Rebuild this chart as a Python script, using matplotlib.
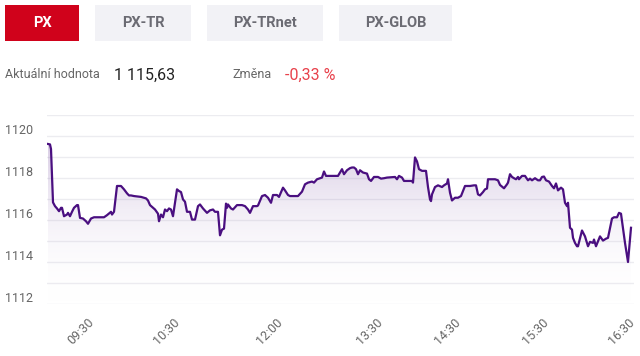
import matplotlib
matplotlib.use("Agg")
import matplotlib.pyplot as plt
import matplotlib.transforms as mtransforms
from matplotlib.patches import Rectangle
import numpy as np

plt.rcParams['font.family'] = ['Roboto', 'DejaVu Sans']

# Data: position along the session (axis units) and index value
poradi = [0, 2, 3, 5, 7, 9, 11, 13, 14, 16, 19, 20, 22, 24, 26, 29, 30, 32, 35, 38,
          40, 43, 46, 51, 56, 59, 63, 64, 66, 69, 73, 76, 79, 81, 83, 86, 93, 98,
          100, 102, 105, 107, 110, 111, 113, 115, 117, 119, 121, 123, 125, 129, 131,
          133, 135, 137, 139, 142, 144, 147, 150, 152, 155, 159, 162, 165, 167, 170,
          172, 174, 176, 178, 179, 180, 183, 185, 189, 194, 197, 200, 202, 205, 209,
          210, 214, 217, 220, 223, 225, 229, 231, 235, 237, 240, 242, 250, 254, 257,
          260, 264, 266, 269, 272, 274, 276, 278, 290, 294, 296, 299, 302, 304, 306,
          308, 310, 312, 315, 319, 321, 323, 326, 330, 333, 336, 339, 347, 349, 351,
          354, 356, 364, 365, 367, 369, 371, 374, 378, 380, 382, 383, 384, 387, 390,
          394, 396, 399, 400, 402, 404, 407, 410, 413, 417, 422, 426, 428, 430, 432,
          435, 437, 439, 440, 447, 450, 452, 456, 459, 460, 462, 464, 466, 468, 470,
          471, 474, 477, 480, 482, 484, 487, 490, 492, 494, 496, 498, 501, 504, 506,
          508, 510, 513, 515, 517, 519, 520, 522, 524, 525, 527, 529, 530, 534, 537,
          540, 542, 545, 546, 548, 550, 552, 555, 558, 560, 564, 566, 569, 571, 573,
          577, 580, 583]
hodnoty = [1119.62, 1119.60, 1119.38, 1116.84, 1116.66, 1116.55, 1116.42, 1116.58,
           1116.58, 1116.18, 1116.26, 1116.34, 1116.18, 1116.39, 1116.58, 1116.71,
           1116.71, 1116.10, 1116.07, 1115.94, 1115.82, 1116.07, 1116.13, 1116.13,
           1116.13, 1116.23, 1116.39, 1116.26, 1116.39, 1117.62, 1117.62, 1117.46,
           1117.27, 1117.17, 1117.17, 1117.14, 1117.10, 1117.03, 1116.93, 1116.71,
           1116.58, 1116.50, 1116.30, 1115.94, 1116.26, 1116.13, 1116.50, 1116.42,
           1116.55, 1116.50, 1116.18, 1117.46, 1117.38, 1117.33, 1116.98, 1116.87,
           1116.39, 1116.39, 1116.02, 1116.02, 1116.66, 1116.74, 1116.55, 1116.34,
           1116.46, 1116.50, 1116.39, 1116.39, 1115.27, 1115.54, 1115.59, 1116.78,
           1116.58, 1116.74, 1116.55, 1116.50, 1116.71, 1116.71, 1116.66, 1116.50,
           1116.34, 1116.66, 1116.66, 1116.69, 1117.14, 1117.19, 1117.06, 1116.82,
           1117.19, 1117.19, 1117.10, 1117.54, 1117.41, 1117.19, 1117.14, 1117.14,
           1117.35, 1117.70, 1117.78, 1117.83, 1117.78, 1117.94, 1117.99, 1118.02,
           1118.31, 1118.10, 1118.10, 1118.42, 1118.18, 1118.37, 1118.47, 1118.50,
           1118.50, 1118.42, 1118.18, 1118.37, 1118.26, 1118.21, 1117.94, 1117.86,
           1118.05, 1118.05, 1117.97, 1117.99, 1118.02, 1118.05, 1117.94, 1118.10,
           1118.02, 1117.86, 1117.86, 1117.78, 1118.98, 1118.79, 1118.42, 1118.34,
           1118.34, 1117.57, 1116.98, 1116.90, 1117.22, 1117.57, 1117.65, 1117.57,
           1117.65, 1117.74, 1117.94, 1117.30, 1116.93, 1117.06, 1117.06, 1117.14,
           1117.62, 1117.62, 1117.65, 1117.65, 1117.22, 1117.17, 1117.33, 1117.46,
           1117.50, 1117.94, 1117.94, 1117.89, 1117.67, 1117.51, 1117.70, 1117.78,
           1118.18, 1118.05, 1117.99, 1117.94, 1118.05, 1117.94, 1118.10, 1118.10,
           1117.89, 1117.97, 1117.89, 1117.99, 1117.89, 1117.89, 1118.05, 1118.07,
           1117.89, 1117.83, 1117.62, 1117.51, 1117.74, 1117.41, 1117.54, 1117.46,
           1116.82, 1116.66, 1116.82, 1115.63, 1115.54, 1115.15, 1114.91, 1114.75,
           1114.75, 1115.50, 1115.22, 1114.75, 1114.96, 1114.91, 1115.07, 1114.75,
           1114.99, 1115.22, 1115.02, 1115.11, 1115.15, 1116.07, 1116.13, 1116.13,
           1116.34, 1116.30, 1114.91, 1114.00, 1115.63]

casy = ["09:30", "10:30", "12:00", "13:30", "14:30", "15:30", "16:30"]
casy_pozice = [44, 130, 233, 333, 411, 499, 585]
y_popisky = [1112, 1114, 1116, 1118, 1120]

indexy = ["PX", "PX-TR", "PX-TRnet", "PX-GLOB"]
aktualni = "1 115,63"
zmena = "-0,33 %"

W, H = 640, 356
fig = plt.figure(figsize=(W / 100, H / 100), dpi=100)

def fx(px):
    return px / W

def fy(py):
    return 1 - py / H

# header buttons
tlacitka = [(5, 79), (95, 191), (207, 323), (339, 452)]
for i, (nazev, (x0, x1)) in enumerate(zip(indexy, tlacitka)):
    aktivni = i == 0
    fig.patches.append(Rectangle((fx(x0), fy(41)), fx(x1 - x0), 36 / H,
                                 transform=fig.transFigure,
                                 facecolor='#d0021b' if aktivni else '#f2f2f6',
                                 edgecolor='none'))
    fig.text(fx((x0 + x1) / 2), fy(23), nazev, ha='center', va='center',
             fontsize=10.5, fontweight='bold',
             color='white' if aktivni else '#6b6b73')

fig.text(fx(5), fy(75), "Aktuální hodnota", ha='left', va='center',
         fontsize=9, color='#666666')
fig.text(fx(114), fy(75), aktualni, ha='left', va='center',
         fontsize=11.5, color='#222222')
fig.text(fx(232), fy(75), "Změna", ha='left', va='center',
         fontsize=9, color='#666666')
fig.text(fx(285), fy(75), zmena, ha='left', va='center',
         fontsize=11.5, color='#e8424c')

# chart
ax = fig.add_axes([fx(47), fy(304), fx(634 - 47), (304 - 115) / H])
ax.set_xlim(-1, 586)
ax.set_ylim(1112, 1121)

x = np.array(poradi)
y = np.array(hodnoty)

# gradient fill under the line
grad = np.linspace(0, 1, 256).reshape(-1, 1)
cmap = matplotlib.colors.LinearSegmentedColormap.from_list(
    'fill', [(1, 1, 1, 0), (0.42, 0.24, 0.60, 0.26)])
im = ax.imshow(grad, aspect='auto', cmap=cmap, origin='lower',
               extent=[x.min(), x.max(), 1112, y.max()], zorder=1)
poly = ax.fill_between(x, y, 1112, facecolor='none', edgecolor='none')
clip = poly.get_paths()[0]
im.set_clip_path(clip, transform=ax.transData)

ax.plot(x, y, color='#4a0f80', linewidth=1.6, zorder=3,
        solid_joinstyle='round')

ax.set_yticks(np.arange(1112, 1122, 1))
ax.yaxis.grid(True, color='#ececf0', linewidth=1)
ax.xaxis.grid(False)
ax.set_axisbelow(True)
ax.tick_params(axis='y', length=0, labelleft=False)
for s in ax.spines.values():
    s.set_visible(False)

# y labels, sitting slightly above their grid lines
tr = mtransforms.blended_transform_factory(fig.transFigure, ax.transData)
for v in y_popisky:
    ax.text(fx(5), v + 0.27, str(v), transform=tr, ha='left', va='center',
            fontsize=9, color='#666666')

ax.set_xticks(casy_pozice)
ax.set_xticklabels(casy, rotation=45, ha='right', va='center',
                   rotation_mode='anchor', fontsize=9, color='#666666')
ax.tick_params(axis='x', length=0, pad=12)

fig.savefig('out.png', dpi=100, facecolor='white')
